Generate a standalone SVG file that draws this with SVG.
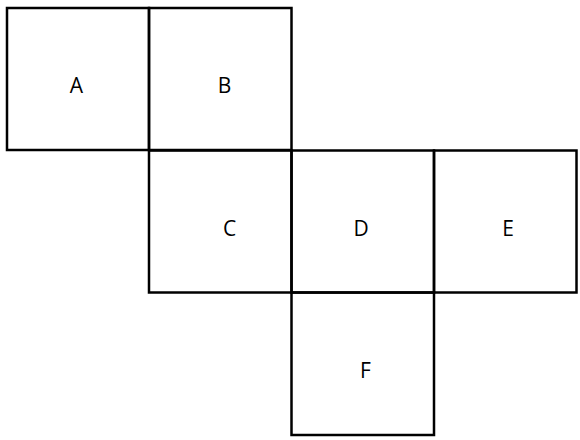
<svg xmlns="http://www.w3.org/2000/svg" width="580" height="440" viewBox="0 0 580 440">
<style>
.sq{fill:none;stroke:#000;stroke-width:2.5}
.lb{font-family:"Open Sans","Noto Sans",sans-serif;font-size:21px;fill:#000;text-anchor:middle}
</style>
<rect width="580" height="440" fill="#fff"/>
<g id="A"><rect class="sq" x="7" y="8" width="142" height="142"/><text class="lb" x="76.5" y="92.7">A</text></g>
<g id="B"><rect class="sq" x="149" y="8" width="142.5" height="142"/><text class="lb" x="224.5" y="92.7">B</text></g>
<g id="C"><rect class="sq" x="149" y="150.5" width="142.5" height="142"/><text class="lb" x="229.5" y="235.7">C</text></g>
<g id="D"><rect class="sq" x="291.5" y="150.5" width="142.5" height="142"/><text class="lb" x="361" y="235.7">D</text></g>
<g id="E"><rect class="sq" x="434" y="150.5" width="142.5" height="142"/><text class="lb" x="508" y="235.7">E</text></g>
<g id="F"><rect class="sq" x="291.5" y="292.5" width="142.5" height="142.5"/><text class="lb" x="365.5" y="377.7">F</text></g>
<g id="connectors"></g>
</svg>
